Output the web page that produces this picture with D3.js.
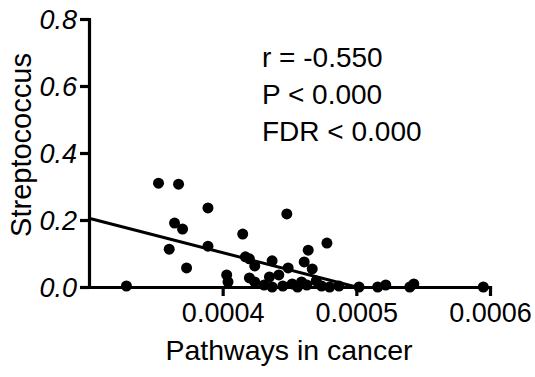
<!DOCTYPE html>
<html>
<head>
<meta charset="utf-8">
<script src="https://cdn.jsdelivr.net/npm/d3@7"></script>
<style>
  body { margin: 0; background: #fff; }
  svg text { font-family: "Liberation Sans", Arial, sans-serif; fill: #000; }
</style>
</head>
<body>
<div class="container"></div>
<script>
// pathway abundance (x) vs Streptococcus abundance (y)
var pathway = [0.000328, 0.000352, 0.000367, 0.000389, 0.000364, 0.000370, 0.000360, 0.000389,
	0.000373, 0.000403, 0.000404, 0.000415, 0.000448, 0.000417, 0.000420, 0.000424,
	0.000420, 0.000424, 0.000437, 0.000478, 0.000464, 0.000461, 0.000449, 0.000467,
	0.000435, 0.000442, 0.000437, 0.000459, 0.000470, 0.000431, 0.000445, 0.000452,
	0.000456, 0.000463, 0.000474, 0.000480, 0.000487, 0.000502, 0.000516, 0.000522,
	0.000540, 0.000543, 0.000595];
var strep = [0.003, 0.310, 0.307, 0.236, 0.191, 0.173, 0.113, 0.122,
	0.057, 0.036, 0.015, 0.158, 0.218, 0.090, 0.084, 0.063,
	0.027, 0.015, 0.078, 0.131, 0.110, 0.075, 0.057, 0.054,
	0.030, 0.036, 0.000, 0.015, 0.018, 0.006, 0.003, 0.009,
	0.000, 0.006, 0.003, 0.000, 0.003, 0.000, 0.000, 0.006,
	0.000, 0.009, 0.000];

// fitted line end points
var fitX = [0.0003, 0.0005];
var fitY = [0.205, 0.0];

var xTicks = [0.0004, 0.0005, 0.0006];
var yTicks = [0, 0.2, 0.4, 0.6, 0.8];
var stats = ["r = -0.550", "P < 0.000", "FDR < 0.000"];

var svg = d3.select('.container').append('svg')
	.attr('width', 535)
	.attr('height', 377);

var x = d3.scaleLinear().domain([0.0003, 0.0006]).range([89, 490]);
var y = d3.scaleLinear().domain([0, 0.8]).range([287, 19]);

// regression line
svg.append('line')
	.attr('x1', x(fitX[0])).attr('y1', y(fitY[0]))
	.attr('x2', x(fitX[1])).attr('y2', y(fitY[1]))
	.attr('stroke', '#000')
	.attr('stroke-width', 3);

// axes
var yAxis = svg.append('g')
	.attr('transform', 'translate(' + x(0.0003) + ',0)')
	.call(d3.axisLeft(y).tickValues(yTicks).tickSize(9).tickSizeOuter(0).tickPadding(3)
		.tickFormat(d3.format('.1f')));
var xAxis = svg.append('g')
	.attr('transform', 'translate(0,' + y(0) + ')')
	.call(d3.axisBottom(x).tickValues(xTicks).tickSize(9).tickSizeOuter(0).tickPadding(7)
		.tickFormat(d3.format('.4f')));

[yAxis, xAxis].forEach(function(a) {
	a.selectAll('path, line').attr('stroke', '#000').attr('stroke-width', 3.2);
	a.selectAll('path').attr('stroke-linecap', 'square');
	a.selectAll('text').attr('fill', '#000').style('font-size', '27px');
});
yAxis.selectAll('text').style('font-style', 'italic').attr('dy', '0.36em');

// points
svg.selectAll('circle.pt')
	.data(pathway)
	.enter().append('circle')
	.attr('class', 'pt')
	.attr('cx', function(d) { return x(d); })
	.attr('cy', function(d, i) { return y(strep[i]); })
	.attr('r', 5.5)
	.attr('fill', '#000');

// axis titles
svg.append('text')
	.attr('transform', 'translate(31,145) rotate(-90)')
	.attr('text-anchor', 'middle')
	.style('font-size', '29px')
	.text('Streptococcus');

svg.append('text')
	.attr('x', 289)
	.attr('y', 360)
	.attr('text-anchor', 'middle')
	.style('font-size', '28.5px')
	.text('Pathways in cancer');

// statistics
svg.selectAll('text.stat')
	.data(stats)
	.enter().append('text')
	.attr('class', 'stat')
	.attr('x', 262)
	.attr('y', function(d, i) { return 67 + i * 37; })
	.style('font-size', '28px')
	.text(function(d) { return d; });
</script>
</body>
</html>
